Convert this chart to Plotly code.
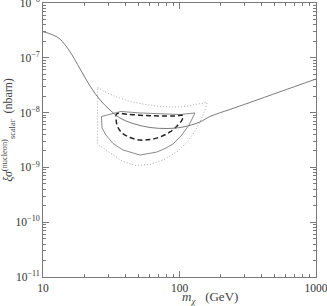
import plotly.graph_objects as go

# Main theoretical curve
mass_curve = [10, 11.6, 13.3, 15.8, 18.7, 22.1, 26.2, 31.0, 36.6, 45.6, 60.8, 80.9, 106, 141, 167, 234, 328, 545, 1000]
sigma_curve = [2.99e-7, 2.66e-7, 2.20e-7, 1.28e-7, 6.25e-8, 3.06e-8, 1.70e-8, 1.11e-8, 7.96e-9, 6.32e-9,
               5.35e-9, 5.13e-9, 5.46e-9, 6.73e-9, 8.49e-9, 1.14e-8, 1.53e-8, 2.40e-8, 4.10e-8]

# Outer dotted region
mass_dotted = [25.1, 28.5, 33.7, 43.4, 55.9, 72.0, 100.9, 129.9, 159.1, 153.8, 143.7, 129.9, 115.4, 97.5,
               78.3, 60.8, 47.2, 37.9, 31.0, 26.2, 25.1, 25.1]
sigma_dotted = [2.87e-8, 2.38e-8, 1.97e-8, 1.60e-8, 1.41e-8, 1.29e-8, 1.26e-8, 1.38e-8, 1.53e-8, 1.11e-8,
                7.33e-9, 4.61e-9, 3.03e-9, 1.99e-9, 1.42e-9, 1.13e-9, 1.08e-9, 1.31e-9, 1.83e-9, 2.46e-9,
                2.67e-9, 2.87e-8]

# Solid region
mass_solid = [26.8, 37.3, 51.4, 72.0, 100.9, 129.9, 117.4, 102.6, 89.6, 78.3, 68.4, 51.4, 38.6, 32.6,
              28.9, 27.1, 26.8]
sigma_solid = [8.49e-9, 1.05e-8, 9.84e-9, 9.43e-9, 9.23e-9, 9.84e-9, 5.94e-9, 3.74e-9, 2.67e-9, 2.21e-9,
               1.91e-9, 1.68e-9, 2.08e-9, 2.73e-9, 3.90e-9, 5.24e-9, 8.49e-9]

# Dashed region
mass_dashed = [34.6, 43.4, 55.9, 72.0, 92.7, 106.1, 104.3, 95.9, 85.2, 72.0, 60.8, 51.4, 43.4, 37.9,
               35.1, 34.3, 34.6]
sigma_dashed = [9.43e-9, 9.23e-9, 8.85e-9, 8.67e-9, 8.67e-9, 8.85e-9, 7.33e-9, 5.69e-9, 4.43e-9, 3.59e-9,
                3.23e-9, 3.16e-9, 3.52e-9, 4.25e-9, 5.69e-9, 7.64e-9, 9.43e-9]

x_tickvals = [10, 100, 1000]
x_ticktext = ["10", "100", "1000"]
y_tickvals = [1e-11, 1e-10, 1e-9, 1e-8, 1e-7, 1e-6]
y_ticktext = ["10<sup>−11</sup>", "10<sup>−10</sup>", "10<sup>−9</sup>", "10<sup>−8</sup>",
              "10<sup>−7</sup>", "10<sup>−6</sup>"]

x_minor = [m * d for d in x_tickvals[:-1] for m in range(2, 10)]
y_minor = [m * d for d in y_tickvals[:-1] for m in range(2, 10)]

FONT = "Liberation Serif"
AX = "#7a7a7a"

fig = go.Figure()
fig.add_trace(go.Scatter(x=mass_dotted, y=sigma_dotted, mode="lines",
                         line=dict(color="#a8a8a8", width=1, dash="1px,2px")))
fig.add_trace(go.Scatter(x=mass_solid, y=sigma_solid, mode="lines",
                         line=dict(color="#8a8a8a", width=1)))
fig.add_trace(go.Scatter(x=mass_dashed, y=sigma_dashed, mode="lines", line_shape="spline",
                         line=dict(color="#222222", width=1.5, dash="5px,3px")))
fig.add_trace(go.Scatter(x=mass_curve, y=sigma_curve, mode="lines", line_shape="spline",
                         line=dict(color="#7a7a7a", width=1)))
# invisible trace binding the minor-tick overlay axes
fig.add_trace(go.Scatter(x=[mass_curve[0]], y=[sigma_curve[0]], xaxis="x2", yaxis="y2",
                         mode="markers", marker=dict(opacity=0), hoverinfo="skip"))

major = dict(
    showgrid=False, zeroline=False, showline=True, linecolor=AX, linewidth=1,
    mirror="allticks", ticks="inside", ticklen=6, tickcolor=AX,
    tickfont=dict(family=FONT, size=11.5, color="#333333"), ticklabeloverflow="allow",
)
minor = dict(
    showgrid=False, zeroline=False, showline=False, mirror="allticks",
    ticks="inside", ticklen=3, tickcolor=AX, showticklabels=False, tickmode="array",
)

fig.update_layout(
    xaxis=dict(type="log", range=[1, 3], tickmode="array", tickvals=x_tickvals, ticktext=x_ticktext, **major),
    yaxis=dict(type="log", range=[-11, -6], tickmode="array", tickvals=y_tickvals, ticktext=y_ticktext, **major),
    xaxis2=dict(type="log", range=[1, 3], overlaying="x", anchor="y2", side="bottom", tickvals=x_minor, **minor),
    yaxis2=dict(type="log", range=[-11, -6], overlaying="y", anchor="x2", side="left", tickvals=y_minor, **minor),
)

fig.add_annotation(text="<i>m</i><sub><i>χ</i></sub>   (GeV)", xref="paper", yref="paper",
                   x=0.61, y=-0.075, showarrow=False, yanchor="middle",
                   font=dict(family=FONT, size=13, color="#444444"))
fig.add_annotation(text="<i>ξσ</i><sup>(nucleon)</sup><sub>scalar</sub>  (nbarn)", xref="paper", yref="paper",
                   x=-0.126, y=0.536, showarrow=False, textangle=-90, xanchor="center", yanchor="middle",
                   font=dict(family=FONT, size=12, color="#444444"))

fig.update_layout(
    width=327, height=306, showlegend=False,
    margin=dict(l=43, r=11, t=3, b=29, autoexpand=False),
    plot_bgcolor="white", paper_bgcolor="white",
)

fig.write_html("out.html", config={"displayModeBar": False},
               post_script="document.body.style.margin='0';document.body.style.overflow='hidden';")
